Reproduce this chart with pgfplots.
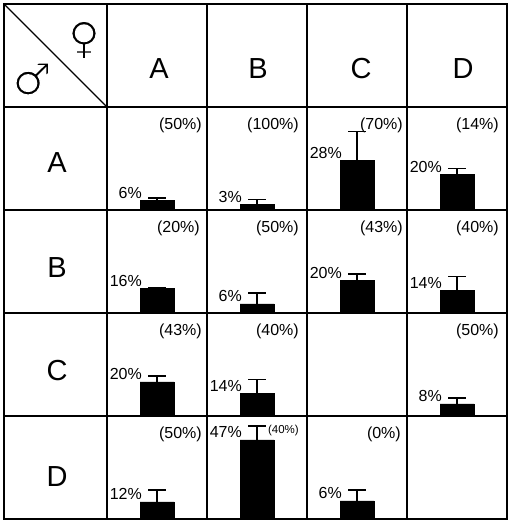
\documentclass[border=0pt]{standalone}
\usepackage{fontspec}
\setmainfont{Liberation Sans}
\newfontfamily\symfont{DejaVu Sans}
\usepackage{pgfplots}
\usepackage{pgfplotstable}
\pgfplotsset{compat=1.18}

% bar heights (percent), upper error (percent), printed label
\pgfplotstableread{
x y err lab
0 5.6 1.4 6
1 3.2 2.9 3
2 29.1 17.2 28
3 20.9 3.5 20
}\rowA
\pgfplotstableread{
x y err lab
0 14.7 0.0 16
1 5.3 6.5 6
2 19.4 3.5 20
3 13.5 8.2 14
}\rowB
\pgfplotstableread{
x y err lab
0 20.0 3.5 20
1 13.5 8.2 14
3 7.1 3.5 8
}\rowC
\pgfplotstableread{
x y err lab
0 10.0 7.1 12
1 46.5 8.2 47
2 10.6 6.5 6
}\rowD

\pgfplotsset{
  cellrow/.style={
    scale only axis, x=100pt, y=1.7pt,
    xmin=-0.5, xmax=3.5, ymin=0, ymax=60.59,
    axis lines=none, clip=false, anchor=south west,
    ybar, bar width=34pt,
  },
  barplot/.style={
    fill=black, draw=black,
    nodes near coords={\pgfplotspointmeta\%},
    point meta=explicit symbolic,
    every node near coord/.append style={anchor=base east, xshift=-15pt, yshift=2pt,
      inner sep=0pt, font=\fontsize{16}{18}\selectfont, text=black},
    error bars/.cd, y dir=plus, y explicit,
    error bar style={line width=1.2pt, black},
    error mark options={rotate=90, line width=1.2pt, mark size=9pt, black},
  },
}

\newcommand\thinglyph[1]{\special{pdf:literal direct 2 Tr 1 1 1 RG 1.4 w}#1\special{pdf:literal direct 0 Tr 0 0 0 RG 0.4 w}}

\begin{document}
\begin{tikzpicture}[x=1pt,y=1pt]
\useasboundingbox (0,0) rectangle (508,522);

% grid
\draw[line width=1.4pt] (4,3) rectangle (507,518);
\foreach \xx in {107,207,307,407} \draw[line width=1.2pt] (\xx,3) -- (\xx,518);
\foreach \yy in {415,312,209,106} \draw[line width=1.2pt] (4,\yy) -- (507,\yy);
\draw[line width=1.1pt] (4,518) -- (107,415);

% corner symbols
\node[inner sep=0pt, font=\symfont\fontsize{44}{44}\selectfont] at (84,482) {\thinglyph{♀}};
\node[inner sep=0pt, font=\symfont\fontsize{44}{44}\selectfont] at (32,443) {\thinglyph{♂}};

% headers
\begin{scope}[every node/.style={inner sep=0pt, font=\fontsize{29}{30}\selectfont}]
\node at (159,453) {A};
\node at (258,453) {B};
\node at (361,453) {C};
\node at (463,453) {D};
\node at (57,359) {A};
\node at (57,254) {B};
\node at (57,151) {C};
\node at (57,45) {D};
\end{scope}

% parenthetical values
\begin{scope}[every node/.style={inner sep=0pt, anchor=east, font=\fontsize{16}{18}\selectfont}]
\node at (202,397) {(50\%)};
\node at (299,397) {(100\%)};
\node at (403,397) {(70\%)};
\node at (499,397) {(14\%)};
\node at (200,294) {(20\%)};
\node at (299,294) {(50\%)};
\node at (403,294) {(43\%)};
\node at (499,294) {(40\%)};
\node at (202,191) {(43\%)};
\node at (299,191) {(40\%)};
\node at (499,191) {(50\%)};
\node at (202,88) {(50\%)};
\node[font=\fontsize{11.5}{13}\selectfont] at (299,91) {(40\%)};
\node at (401,88) {(0\%)};
\end{scope}

% bars, one axis per row
\begin{axis}[cellrow, at={(107pt,312pt)}]
\addplot[barplot] table[x=x, y=y, y error=err, meta=lab] {\rowA};
\end{axis}
\begin{axis}[cellrow, at={(107pt,209pt)}]
\addplot[barplot] table[x=x, y=y, y error=err, meta=lab] {\rowB};
\end{axis}
\begin{axis}[cellrow, at={(107pt,106pt)}]
\addplot[barplot] table[x=x, y=y, y error=err, meta=lab] {\rowC};
\end{axis}
\begin{axis}[cellrow, at={(107pt,3pt)}]
\addplot[barplot] table[x=x, y=y, y error=err, meta=lab] {\rowD};
\end{axis}
\end{tikzpicture}
\end{document}
